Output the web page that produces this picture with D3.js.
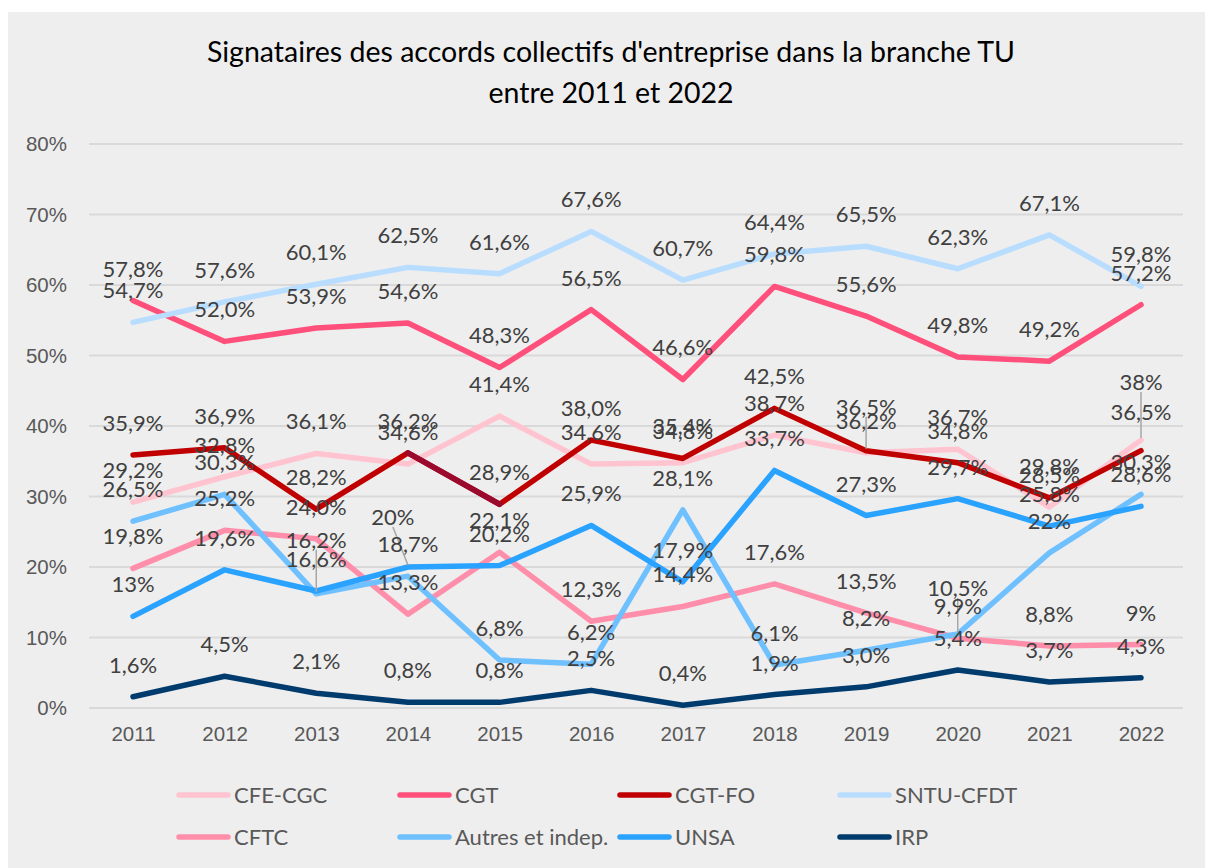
<!DOCTYPE html>
<html>
<head>
<meta charset="utf-8">
<script src="https://cdn.jsdelivr.net/npm/d3@7"></script>
<style>
  body { margin: 0; background: #fff; }
  svg { display: block; font-family: "Lato", "Open Sans", sans-serif; }
  .grid line { stroke: #d9d9d9; stroke-width: 2; }
  .tick-lbl { fill: #595959; font-size: 20.5px; }
  .leg-lbl { fill: #595959; font-size: 22px; }
  .dlabel { fill: #404040; font-size: 22px; }
  .leader { stroke: #a6a6a6; stroke-width: 1.5; }
</style>
</head>
<body>
<div id="chart"></div>
<script>
// data (values in %)
var years = ["2011","2012","2013","2014","2015","2016","2017","2018","2019","2020","2021","2022"];
var yTicks = [0, 10, 20, 30, 40, 50, 60, 70, 80];

var seriesNames = ["CFE-CGC", "CGT", "CGT-FO", "SNTU-CFDT", "CFTC", "Autres et indep.", "UNSA", "IRP"];

// kept as text so the labels read the same as the picture ("13%" vs "52,0%")
var cfeCgc  = ["29.2","32.8","36.1","34.6","41.4","34.6","34.8","38.7","36.2","36.7","28.5","38"];
var cgt     = ["57.8","52.0","53.9","54.6","48.3","56.5","46.6","59.8","55.6","49.8","49.2","57.2"];
var cgtFo   = ["35.9","36.9","28.2","36.2","28.9","38.0","35.4","42.5","36.5","34.8","29.8","36.5"];
var sntu    = ["54.7","57.6","60.1","62.5","61.6","67.6","60.7","64.4","65.5","62.3","67.1","59.8"];
var cftc    = ["19.8","25.2","24.0","13.3","22.1","12.3","14.4","17.6","13.5","9.9","8.8","9"];
var autres  = ["26.5","30.3","16.2","18.7","6.8","6.2","28.1","6.1","8.2","10.5","22","30.3"];
var unsa    = ["13","19.6","16.6","20","20.2","25.9","17.9","33.7","27.3","29.7","25.8","28.6"];
var irp     = ["1.6","4.5","2.1","0.8","0.8","2.5","0.4","1.9","3.0","5.4","3.7","4.3"];

var seriesValues = [cfeCgc, cgt, cgtFo, sntu, cftc, autres, unsa, irp];
var colors = ["#ffc4d0", "#ff4f7b", "#c00000", "#b8ddff", "#ff8eab", "#6fc0ff", "#2aa2ff", "#003b6e"];

var W = 1205, H = 868;

var svg = d3.select("#chart").append("svg")
    .attr("width", W)
    .attr("height", H);

// chart area background
svg.append("rect")
    .attr("x", 8).attr("y", 12)
    .attr("width", W - 8).attr("height", H - 12)
    .attr("fill", "#eeeeee");

// title
var title = svg.append("text")
    .attr("x", 611)
    .attr("text-anchor", "middle")
    .attr("fill", "#000")
    .style("font-size", "28.5px");
title.append("tspan").attr("x", 611).attr("y", 62)
    .text("Signataires des accords collectifs d'entreprise dans la branche TU");
title.append("tspan").attr("x", 611).attr("y", 103)
    .text("entre 2011 et 2022");

var xScale = d3.scalePoint()
    .domain(years)
    .range([133, 1141]);
var yScale = d3.scaleLinear()
    .domain([0, 80])
    .range([708, 144]);

// gridlines
svg.append("g")
    .attr("class", "grid")
    .selectAll("line")
    .data(yTicks)
    .enter().append("line")
    .attr("x1", 89)
    .attr("x2", 1183)
    .attr("y1", function(d) { return yScale(d); })
    .attr("y2", function(d) { return yScale(d); });

// y axis labels
var yAxis = d3.axisLeft(yScale).tickValues(yTicks).tickSize(0).tickPadding(0)
    .tickFormat(function(d) { return d + "%"; });
var gy = svg.append("g")
    .attr("transform", "translate(67,0)")
    .call(yAxis);
gy.select(".domain").remove();
gy.selectAll("text").attr("class", "tick-lbl").attr("fill", null).attr("font-family", null).attr("font-size", null);

// x axis labels
var xAxis = d3.axisBottom(xScale).tickSize(0).tickPadding(0);
var gx = svg.append("g")
    .attr("transform", "translate(0,726)")
    .call(xAxis);
gx.select(".domain").remove();
gx.selectAll("text").attr("class", "tick-lbl").attr("fill", null).attr("font-family", null).attr("font-size", null);

// lines
var line = d3.line()
    .x(function(d, i) { return xScale(years[i]); })
    .y(function(d) { return yScale(+d); });

seriesValues.forEach(function(vals, s) {
    svg.append("path")
        .datum(vals)
        .attr("d", line)
        .attr("fill", "none")
        .attr("stroke", colors[s])
        .attr("stroke-width", 5.5)
        .attr("stroke-linecap", "round")
        .attr("stroke-linejoin", "round");
});

// the CGT-FO segment 2014-2015 is drawn in a darker red in the picture
svg.append("path")
    .datum(cgtFo.slice(3, 5))
    .attr("d", d3.line()
        .x(function(d, i) { return xScale(years[i + 3]); })
        .y(function(d) { return yScale(+d); }))
    .attr("fill", "none")
    .attr("stroke", "#990a2e")
    .attr("stroke-width", 5.5)
    .attr("stroke-linecap", "round");

// labels moved by hand in the original (series index | year -> dx, dy, leader)
var nudges = {
    "5|2013": {dx: 0, dy: -22, leader: true},
    "6|2014": {dx: -15, dy: -18, leader: true},
    "2|2019": {dx: 0, dy: -12, leader: true},
    "5|2020": {dx: 0, dy: -14, leader: true},
    "0|2022": {dx: 0, dy: -26, leader: true},
    "2|2022": {dx: 0, dy: -7, leader: false}
};

var labelLayer = svg.append("g");
var leaderLayer = labelLayer.append("g");

seriesValues.forEach(function(vals, s) {
    vals.forEach(function(v, i) {
        var px = xScale(years[i]), py = yScale(+v);
        var n = nudges[s + "|" + years[i]] || {dx: 0, dy: 0};
        var lx = px + n.dx, ly = py - 32 + n.dy;
        if (n.leader) {
            leaderLayer.append("line")
                .attr("class", "leader")
                .attr("x1", lx).attr("y1", ly + 10)
                .attr("x2", px).attr("y2", py - 2);
        }
        labelLayer.append("text")
            .attr("class", "dlabel")
            .attr("x", lx)
            .attr("y", ly + 8)
            .attr("text-anchor", "middle")
            .attr("fill", s === 2 ? "#595959" : null)
            .text(v.replace(".", ",") + "%");
    });
});

// legend
var legX = [176, 397, 617, 837];
var legY = [795, 837];
var legend = svg.append("g");
seriesNames.forEach(function(name, s) {
    var lx = legX[s % 4], ly = legY[Math.floor(s / 4)];
    legend.append("line")
        .attr("x1", lx + 3).attr("x2", lx + 52)
        .attr("y1", ly).attr("y2", ly)
        .attr("stroke", colors[s])
        .attr("stroke-width", 5.5)
        .attr("stroke-linecap", "round");
    legend.append("text")
        .attr("class", "leg-lbl")
        .attr("x", lx + 58)
        .attr("y", ly + 8)
        .text(name);
});
</script>
</body>
</html>
